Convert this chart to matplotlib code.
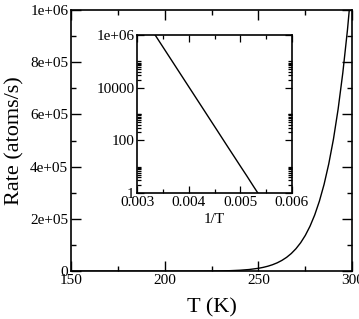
import matplotlib
matplotlib.use('Agg')
import matplotlib.pyplot as plt
import numpy as np

T = np.array([150, 155, 160, 165, 170, 175, 180, 185, 190, 195,
              200, 205, 210, 215, 220, 225, 230, 235, 240, 245,
              250, 252.5, 255, 257.5, 260, 262.5, 265, 267.5, 270, 272.5,
              275, 277.5, 280, 282.5, 285, 287.5, 290, 292.5, 295, 297.5, 300])  #K
rate = np.array([1.0e-4, 4.5e-4, 1.8e-3, 6.7e-3, 2.3e-2, 7.4e-2, 0.22, 0.64, 1.7, 4.4,
                 10.6, 24.7, 55, 119, 249, 501, 981, 1866, 3450, 6230,
                 10960, 14440, 18900, 24630, 31900, 41170, 52800, 67500, 85900, 108700,
                 137000, 172000, 215000, 267800, 332000, 410500, 505000, 620300, 759000, 924500, 1122000])  #atoms/s

#Achsenbeschriftungen
xticks_main = [150, 200, 250, 300]
yticks_main = [0, 2e5, 4e5, 6e5, 8e5, 1e6]
ylabels_main = ['0', '2e+05', '4e+05', '6e+05', '8e+05', '1e+06']
xticks_ins = [0.003, 0.004, 0.005, 0.006]
xlabels_ins = ['0.003', '0.004', '0.005', '0.006']
yticks_ins = [1, 1e2, 1e4, 1e6]
ylabels_ins = ['1', '100', '10000', '1e+06']

plt.rcParams['font.family'] = ['Liberation Serif', 'DejaVu Serif']

fig = plt.figure(figsize=(3.59, 3.19), dpi=100)

#Hauptplot
ax = fig.add_axes([0.198, 0.150, 0.783, 0.819])
ax.plot(T, rate, 'k', lw=1.0)
ax.set_xlim(150, 300)
ax.set_ylim(0, 1e6)
ax.set_xticks(xticks_main)
ax.set_xticks([175, 225, 275], minor=True)
ax.set_yticks(yticks_main)
ax.set_yticklabels(ylabels_main)
ax.set_yticks([1e5, 3e5, 5e5, 7e5, 9e5], minor=True)
ax.tick_params(which='both', direction='in', top=True, right=True, labelsize=11, width=1.0)
ax.tick_params(which='major', length=7, pad=2)
ax.tick_params(which='minor', length=3.5)
ax.set_xlabel('T (K)', fontsize=16, labelpad=8)
ax.set_ylabel('Rate (atoms/s)', fontsize=16, labelpad=4)
for s in ax.spines.values():
    s.set_linewidth(1.2)

#Inset
ins = fig.add_axes([0.382, 0.395, 0.431, 0.495])
ins.plot(1/T, rate, 'k', lw=1.0)
ins.set_yscale('log')
ins.set_xlim(0.003, 0.006)
ins.set_ylim(1, 1e6)
ins.set_xticks(xticks_ins)
ins.set_xticklabels(xlabels_ins)
ins.set_xticks([0.0035, 0.0045, 0.0055], minor=True)
ins.set_yticks(yticks_ins)
ins.set_yticklabels(ylabels_ins)
minor = [k*10.0**e for e in [0, 2, 4] for k in range(2, 11)] + [1e3]
ins.set_yticks(minor, minor=True)
ins.set_yticklabels([], minor=True)
ins.tick_params(which='both', direction='in', top=True, right=True, labelsize=11, width=0.9)
ins.tick_params(which='major', length=5, pad=2)
ins.tick_params(which='minor', length=3)
ins.set_xlabel('1/T', fontsize=11, labelpad=3)
for s in ins.spines.values():
    s.set_linewidth(1.2)

plt.savefig('out.png', dpi=100)
